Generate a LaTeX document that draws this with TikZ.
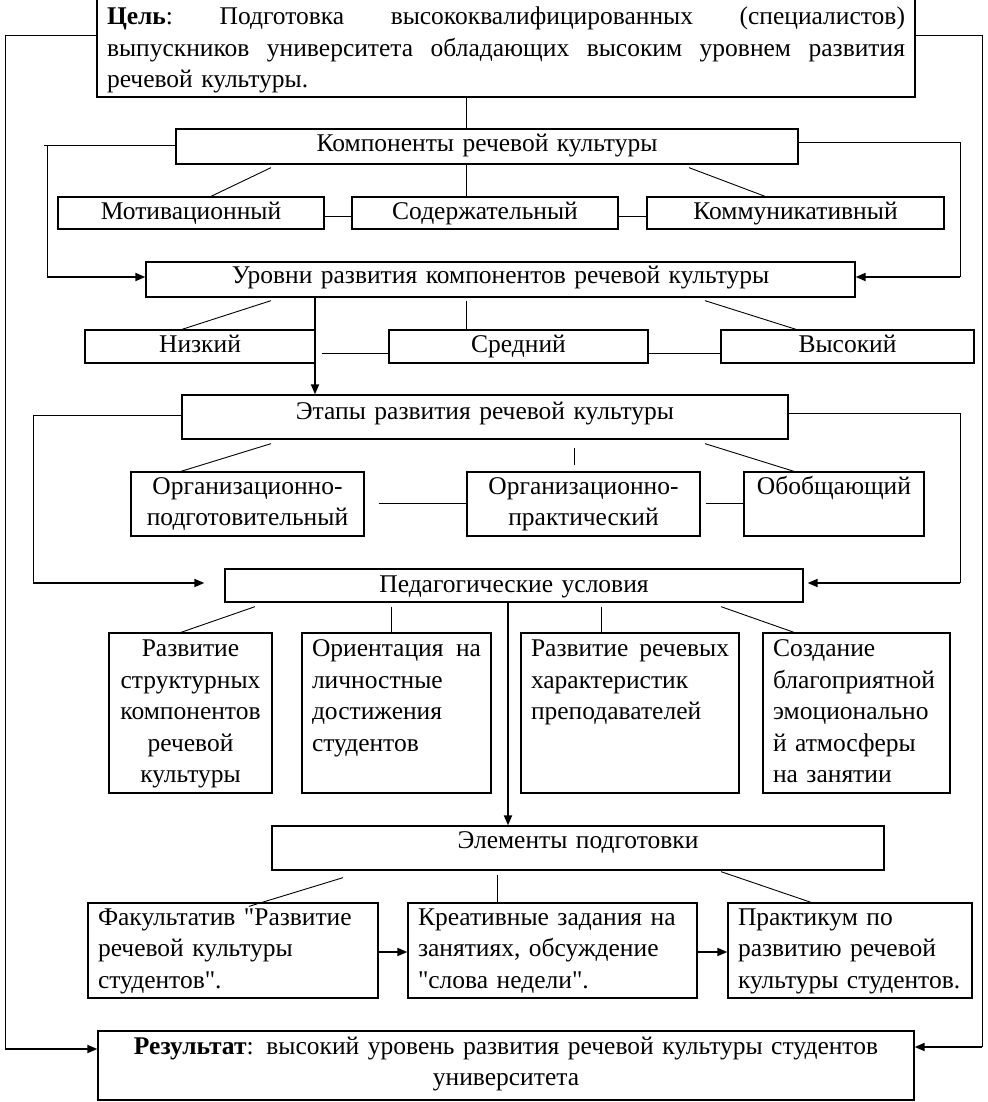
\documentclass[tikz,border=0pt]{standalone}
\usepackage{fontspec}
\setmainfont{Liberation Serif}[Ligatures=TeXOff]
\usetikzlibrary{arrows.meta}
\hyphenpenalty=10000 \exhyphenpenalty=10000
\newcommand\jline[1]{\leavevmode\hbox to\linewidth{#1}}
\begin{document}
\begin{tikzpicture}[x=1pt,y=-1pt,
  every node/.style={font=\fontsize{25.5pt}{31.5pt}\selectfont},
  bx/.style={draw, line width=1.3pt, inner ysep=0pt, inner xsep=10pt, align=center},
  bxl/.style={bx, align=left},
  thin/.style={line width=0.9pt},
  arr/.style={line width=1.8pt, -{Triangle[length=10pt,width=8pt]}},
]
\useasboundingbox (0,0) rectangle (987,1102);
% boxes
\node[bxl, text width=798pt, text height=26pt, text depth=72pt] (goal) at (506,48)
 {\jline{\textbf{Цель}:\hfill Подготовка\hfill высококвалифицированных\hfill (специалистов)}\\
  \jline{выпускников\hfill университета\hfill обладающих\hfill высоким\hfill уровнем\hfill развития}\\
  речевой культуры.};
\node[bx, text width=602pt, text height=22.5pt, text depth=12.5pt] (komp) at (487,146.5) {Компоненты речевой культуры};
\node[bx, text width=246pt, text height=22pt, text depth=10pt] (motiv) at (191,213) {Мотивационный};
\node[bx, text width=246pt, text height=22pt, text depth=10pt] (soderzh) at (485,213) {Содержательный};
\node[bx, text width=277pt, text height=22pt, text depth=10pt] (kommun) at (795.5,213) {Коммуникативный};
\node[bx, text width=689pt, text height=21.5pt, text depth=13.5pt] (urovni) at (500.5,279.5) {Уровни развития компонентов речевой культуры};
\node[bx, text width=210pt, text height=22.5pt, text depth=10.5pt] (nizk) at (200,346.5) {Низкий};
\node[bx, text width=239pt, text height=22.5pt, text depth=10.5pt] (sredn) at (518.5,346.5) {Средний};
\node[bx, text width=233pt, text height=22.5pt, text depth=10.5pt] (vysok) at (847.5,346.5) {Высокий};
\node[bx, text width=586pt, text height=24.5pt, text depth=19.5pt] (etapy) at (485,417) {Этапы развития речевой культуры};
\node[bx, text width=213pt, text height=22pt, text depth=42pt] (org1) at (247.5,504) {Организационно-\\подготовительный};
\node[bx, text width=213pt, text height=22pt, text depth=42pt] (org2) at (583.5,504) {Организационно-\\практический};
\node[bx, text width=160pt, text height=22pt, text depth=42pt] (obob) at (834,504) {Обобщающий};
\node[bx, text width=558pt, text height=23.5pt, text depth=9.5pt] (ped) at (514,585.5) {Педагогические условия};
\node[bx, text width=143pt, text height=23.5pt, text depth=136.5pt] (c1) at (190.5,713) {Развитие\\структурных\\компонентов\\речевой\\культуры};
\node[bxl, text width=169pt, text height=23.5pt, text depth=136.5pt] (c2) at (396.5,713) {\jline{Ориентация\hfill на}\\личностные\\достижения\\студентов};
\node[bxl, text width=198pt, text height=23.5pt, text depth=136.5pt] (c3) at (630,713) {\jline{Развитие\hfill речевых}\\характеристик\\преподавателей};
\node[bxl, text width=167pt, text height=23.5pt, text depth=136.5pt] (c4) at (856.5,713) {Создание\\благоприятной\\эмоционально\\й атмосферы\\на занятии};
\node[bx, text width=592pt, text height=22.5pt, text depth=21.5pt] (elem) at (578,848) {Элементы подготовки};
\node[bxl, text width=270pt, text height=22pt, text depth=73pt] (f1) at (233,950.5) {Факультатив "Развитие\\речевой культуры\\студентов".};
\node[bxl, text width=269pt, text height=22pt, text depth=73pt] (f2) at (552.5,950.5) {Креативные задания на\\занятиях, обсуждение\\"слова недели".};
\node[bxl, text width=224pt, text height=22pt, text depth=73pt] (f3) at (850,950.5) {Практикум по\\развитию речевой\\культуры студентов.};
\node[bx, text width=796pt, text height=23pt, text depth=46pt] (res) at (506,1065.5) {\textbf{Результат}: высокий уровень развития речевой культуры студентов\\университета};
% outer loops
\coordinate (gl) at (5,35); \coordinate (rl) at (5,1049);
\coordinate (gr) at (982,35); \coordinate (rr) at (982,1047);
\draw[thin] ([yshift=13pt]goal.west) -- (gl) -- (rl);
\draw[arr] (rl) -- ([yshift=16.5pt]res.west);
\draw[thin] ([yshift=13pt]goal.east) -- (gr) -- (rr);
\draw[arr] (rr) -- ([yshift=18.5pt]res.east);
\draw[thin] ([xshift=-40pt]goal.south) -- ([xshift=-21pt]komp.north);
% komp loops
\coordinate (kl0) at (44,145); \coordinate (kl1) at (47,145); \coordinate (kl2) at (47,277);
\coordinate (kr1) at (960,142); \coordinate (kr2) at (960,277);
\draw[thin] ([yshift=1.5pt]komp.west) -- (kl0);
\draw[thin] (kl1) -- (kl2);
\draw[arr] (kl2) -- ([yshift=2.5pt]urovni.west);
\draw[thin] ([yshift=4.5pt]komp.east) -- (kr1) -- (kr2);
\draw[arr] (kr2) -- ([yshift=2.5pt]urovni.east);
\draw[thin] ([xshift=-216pt,yshift=-3pt]komp.south) -- ([xshift=20pt]motiv.north);
\draw[thin] ([xshift=-21pt]komp.south) -- ([xshift=-19pt]soderzh.north);
\draw[thin] ([xshift=202pt,yshift=-3pt]komp.south) -- ([xshift=-30.5pt]kommun.north);
\draw[thin] ([yshift=-3pt]motiv.east) -- ([yshift=-3pt]soderzh.west);
\draw[thin] ([yshift=-3pt]soderzh.east) -- ([yshift=-3pt]kommun.west);
% urovni
\draw[thin] ([xshift=-229.5pt,yshift=-3pt]urovni.south) -- ([xshift=-18pt]nizk.north);
\draw[arr] ([xshift=-185.5pt]urovni.south) -- ([xshift=-170pt]etapy.north);
\draw[thin] ([xshift=-34.5pt,yshift=-3pt]urovni.south) -- ([xshift=-52.5pt]sredn.north);
\draw[thin] ([xshift=204.5pt,yshift=-3pt]urovni.south) -- ([xshift=-51.5pt]vysok.north);
\draw[thin, shorten <=6pt] ([yshift=-6.5pt]nizk.east) -- ([yshift=-6.5pt]sredn.west);
\draw[thin] ([yshift=-6.5pt]sredn.east) -- ([yshift=-6.5pt]vysok.west);
% etapy
\coordinate (el1) at (33,415); \coordinate (el2) at (33,583);
\coordinate (er1) at (960,413); \coordinate (er2) at (960,583);
\draw[thin] ([yshift=2pt]etapy.west) -- (el1) -- (el2);
\draw[arr, shorten >=20pt] (el2) -- ([yshift=2.5pt]ped.west);
\draw[thin] ([yshift=4pt]etapy.east) -- (er1) -- (er2);
\draw[arr, shorten >=4pt] (er2) -- ([yshift=2.5pt]ped.east);
\draw[thin] ([xshift=-214pt,yshift=-4pt]etapy.south) -- ([xshift=-66.5pt]org1.north);
\draw[thin] ([xshift=89pt,yshift=-8pt]etapy.south) -- ([xshift=-9.5pt,yshift=6pt]org2.north);
\draw[thin] ([xshift=220pt,yshift=-4pt]etapy.south) -- ([xshift=-40pt]obob.north);
\draw[thin, shorten <=14pt] ([yshift=1pt]org1.east) -- ([yshift=1pt]org2.west);
\draw[thin, shorten <=5pt] ([yshift=1pt]org2.east) -- ([yshift=1pt]obob.west);
% ped
\draw[thin] ([xshift=-259pt,yshift=-4pt]ped.south) -- ([xshift=-9.5pt]c1.north);
\draw[thin] ([xshift=-123pt,yshift=-4pt]ped.south) -- ([xshift=-5.5pt]c2.north);
\draw[arr] ([xshift=-6pt]ped.south) -- ([xshift=-70pt]elem.north);
\draw[thin] ([xshift=87pt,yshift=-4pt]ped.south) -- ([xshift=-29pt]c3.north);
\draw[thin] ([xshift=207pt,yshift=-4pt]ped.south) -- ([xshift=-62.5pt]c4.north);
% elem
\draw[thin] ([xshift=-235pt,yshift=-7pt]elem.south) -- ([xshift=16pt,yshift=-4pt]f1.north);
\draw[thin] ([xshift=-81pt,yshift=-4pt]elem.south) -- ([xshift=-55.5pt]f2.north);
\draw[thin] ([xshift=143pt,yshift=-1pt]elem.south) -- ([xshift=-39pt]f3.north);
\draw[arr] ([yshift=-1.5pt]f1.east) -- ([yshift=-1.5pt]f2.west);
\draw[arr] ([yshift=-1.5pt]f2.east) -- ([yshift=-1.5pt]f3.west);
\end{tikzpicture}
\end{document}
